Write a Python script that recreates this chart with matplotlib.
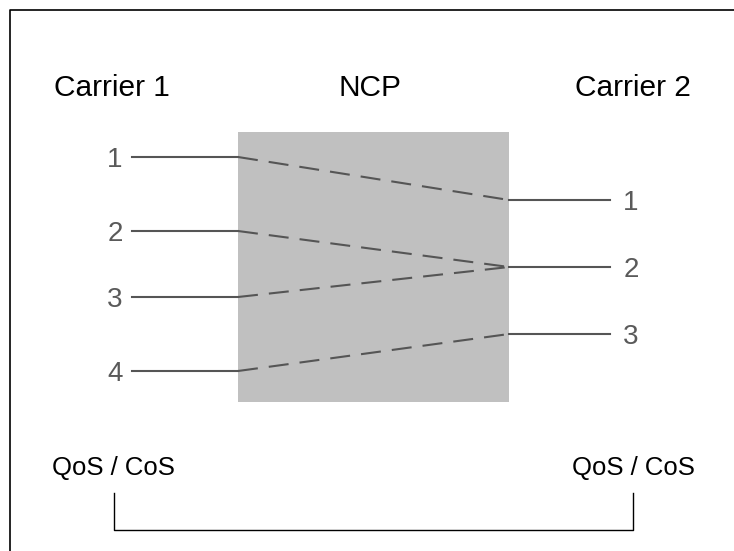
import matplotlib
matplotlib.use("Agg")
import matplotlib.pyplot as plt
from matplotlib.patches import Rectangle

# diagram content (pixel space of the 734x551 picture)
headers = ["Carrier 1", "NCP", "Carrier 2"]
header_x = [112, 370, 633]
left_ports = ["1", "2", "3", "4"]
left_y = [157, 231, 297, 371]
right_ports = ["1", "2", "3"]
right_y = [200, 267, 334]
# which right port each left port is mapped to (index)
mapping = [0, 1, 1, 2]
qos_label = "QoS / CoS"
qos_x = [113, 633]

plt.rcParams['font.family'] = ['Liberation Sans', 'DejaVu Sans']

fig = plt.figure(figsize=(7.34, 5.51), dpi=100)
ax = fig.add_axes([0, 0, 1, 1])
ax.set_xlim(0, 734)
ax.set_ylim(551, 0)
ax.axis('off')

# outer frame (runs off the right and bottom edge)
ax.plot([10, 10, 740], [560, 10, 10], color='black', lw=1.2)

# NCP box
box_l, box_r, box_t, box_b = 238, 509, 132, 402
ax.add_patch(Rectangle((box_l, box_t), box_r - box_l, box_b - box_t,
                       facecolor='#c0c0c0', edgecolor='none', zorder=1))

for x, t in zip(header_x, headers):
    ax.text(x, 88, t, fontsize=21.5, ha='center', va='center', color='black')

line_col = '#555555'
num_col = '#5a5a5a'

for lab, y in zip(left_ports, left_y):
    ax.plot([132, box_l], [y, y], color=line_col, lw=1.5, zorder=2)
    ax.text(115, y + 3, lab, fontsize=20, ha='center', va='center', color=num_col)

for lab, y in zip(right_ports, right_y):
    ax.plot([box_r, 610], [y, y], color=line_col, lw=1.5, zorder=2)
    ax.text(631, y + 3, lab, fontsize=20, ha='center', va='center', color=num_col)

for i, y in enumerate(left_y):
    ax.plot([box_l, box_r], [y, right_y[mapping[i]]], color=line_col, lw=1.5,
            dashes=(9.6, 5.3), zorder=2)

for x in qos_x:
    ax.text(x, 468, qos_label, fontsize=18.5, ha='center', va='center', color='black')

# bracket joining the two QoS / CoS labels
ax.plot([qos_x[0] + 1, qos_x[0] + 1, qos_x[1], qos_x[1]], [493, 530, 530, 493],
        color='black', lw=1.0)

fig.savefig("out.png", dpi=100)
